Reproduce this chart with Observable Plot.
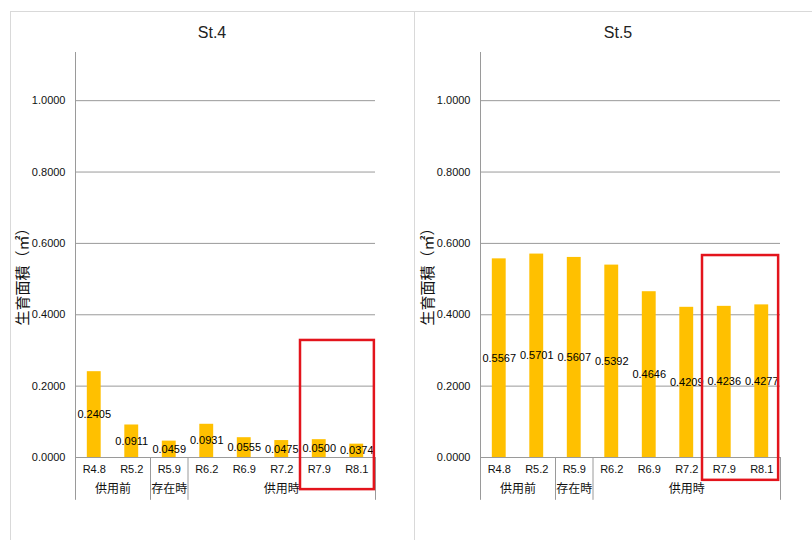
<!DOCTYPE html>
<html>
<head>
<meta charset="utf-8">
<script src="https://cdn.jsdelivr.net/npm/d3@7"></script>
<script src="https://cdn.jsdelivr.net/npm/@observablehq/plot@0.6"></script>
<style>
  body { margin: 0; background: #fff; width: 812px; height: 540px; overflow: hidden; position: relative;
         font-family: "Liberation Sans", Arial, "Noto Sans CJK JP", sans-serif; }
  .panel { position: absolute; top: 11px; height: 529px; border-top: 1px solid #d9d9d9; border-left: 1px solid #d9d9d9; box-sizing: border-box; }
  .title { position: absolute; top: 24px; font-size: 16px; line-height: 18px; color: #222; transform: translateX(-50%); white-space: nowrap; }
  .chart { position: absolute; top: 40px; }
</style>
</head>
<body>
<div class="panel" style="left:10px;width:405px"></div>
<div class="panel" style="left:414px;width:398px"></div>
<script>
// Survey periods (x categories) and their phase groups
const periods = ["R4.8", "R5.2", "R5.9", "R6.2", "R6.9", "R7.2", "R7.9", "R8.1"];
const phases = ["供用前", "存在時", "供用時"];
const phaseSizes = [2, 1, 5];

// Growth area (m²) per station
const st4Values = [0.2405, 0.0911, 0.0459, 0.0931, 0.0555, 0.0475, 0.0500, 0.0374];
const st5Values = [0.5567, 0.5701, 0.5607, 0.5392, 0.4646, 0.4209, 0.4236, 0.4277];

// y-axis ticks
const yTicks = [0, 0.2, 0.4, 0.6, 0.8, 1.0];
const yLabel = "生育面積（㎡）";

const fmt = d3.format(".4f");
const gridColor = "#9a9a9a";
const barColor = "#ffc000";

// phase group extents in index units
let start = 0;
const groups = phases.map((name, k) => {
  const g = {name, start, end: start + phaseSizes[k] - 1};
  start += phaseSizes[k];
  return g;
});
const boundaries = groups.map(g => g.start - 0.5);
const lastEdge = periods.length - 0.5;

function panel(title, values, box, left, titleX) {
  const data = values.map((v, i) => ({i, period: periods[i], v}));
  const hw = 0.185;

  const plot = Plot.plot({
    width: 400,
    height: 477,
    marginLeft: 65,
    marginRight: 35,
    marginTop: 12,
    marginBottom: 60,
    style: {fontSize: "11px", fontFamily: "'Liberation Sans', Arial, 'Noto Sans CJK JP', sans-serif", color: "#111", background: "transparent"},
    x: {type: "linear", domain: [-0.5, periods.length - 0.5], ticks: d3.range(periods.length),
        tickFormat: i => periods[i], tickSize: 0, tickPadding: 8, label: null},
    y: {domain: [0, 1.135], ticks: yTicks, tickFormat: fmt, tickSize: 0, tickPadding: 10, label: null},
    marks: [
      Plot.ruleY(yTicks, {stroke: gridColor, strokeWidth: 1}),
      // vertical axis line and category-group separators
      Plot.ruleX([-0.5], {y1: 1.135, y2: -0.12, stroke: gridColor}),
      Plot.ruleX([...boundaries.slice(1), lastEdge], {y1: 0, y2: -0.12, stroke: gridColor}),
      Plot.rectY(data, {x1: d => d.i - hw, x2: d => d.i + hw, y: "v", fill: barColor}),
      Plot.text(data, {x: "i", y: d => d.v / 2, text: d => fmt(d.v), fill: "#000", fontSize: 11}),
      Plot.text(groups, {x: g => (g.start + g.end) / 2, frameAnchor: "bottom", dy: 35, text: "name", fontSize: 12, fill: "#111"}),
      Plot.text([yLabel], {frameAnchor: "left", textAnchor: "middle", rotate: -90, dx: -52, dy: 18, fontSize: 15, fill: "#111"}),
      Plot.rect([box], {x1: "x1", x2: "x2", y1: "y1", y2: "y2", fill: "none", stroke: "#e3141c", strokeWidth: 2.5})
    ]
  });
  plot.classList.add("chart");
  plot.style.left = left + "px";
  document.body.appendChild(plot);

  const t = document.createElement("div");
  t.className = "title";
  t.style.left = titleX + "px";
  t.textContent = title;
  document.body.appendChild(t);
}

panel("St.4", st4Values, {x1: 5.5, x2: 7.47, y1: -0.09, y2: 0.328}, 10, 212);
panel("St.5", st5Values, {x1: 5.42, x2: 7.45, y1: -0.064, y2: 0.566}, 415, 618);
</script>
</body>
</html>
